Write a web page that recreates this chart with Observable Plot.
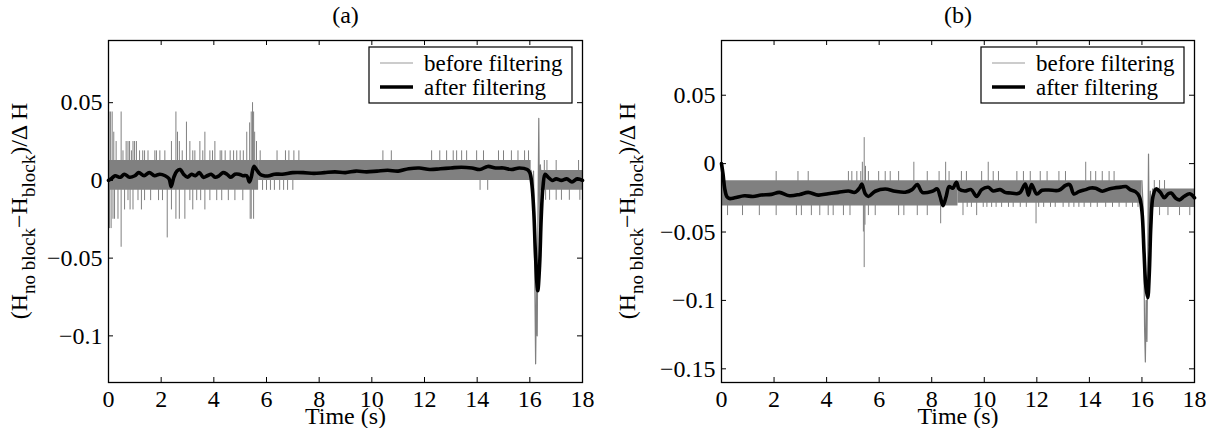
<!DOCTYPE html>
<html><head><meta charset="utf-8">
<script src="https://cdn.jsdelivr.net/npm/d3@7"></script>
<script src="https://cdn.jsdelivr.net/npm/@observablehq/plot@0.6"></script>
<style>
body{margin:0;background:#fff;}
#wrap{display:flex;width:1206px;height:428px;background:#fff;}
svg text{font-family:"Liberation Serif","Times New Roman",serif;}
g[aria-label="x-axis tick label"] text, g[aria-label="y-axis tick label"] text{font-size:24px !important;}
</style></head><body><div id="wrap"></div>
<script>
// ---------- data ----------
const xTicks = [0, 2, 4, 6, 8, 10, 12, 14, 16, 18];
const yTicksA = [-0.1, -0.05, 0, 0.05];
const yTicksB = [-0.15, -0.1, -0.05, 0, 0.05];
const yDomainA = [-0.13, 0.09];
const yDomainB = [-0.16, 0.09];
const panelTitles = ["(a)", "(b)"];
const legendLabels = ["before filtering", "after filtering"];
const xLabel = "Time (s)";

// gray (before filtering) dense band: [tStart, tEnd, low, high]
const bandA = [[0, 5.7, -0.0064, 0.0128], [5.7, 16.05, 0, 0.0128], [16.45, 18, -0.0064, 0.0064]];
const bandB = [[0, 9.0, -0.031, -0.0125], [9.0, 16.0, -0.029, -0.0125], [16.4, 18, -0.032, -0.0185]];

// gray spikes leaving the band: [t, value]
const spikesA = [
  [0.02,0.044],[0.08,0.044],[0.14,0.044],[0.2,0.031],[0.29,0.025],[0.48,0.044],[0.55,0.019],[0.67,0.025],[0.74,0.025],[0.80,0.025],
  [0.87,0.019],[0.93,0.025],[0.99,0.025],[1.06,0.025],[1.18,0.019],[1.3,0.019],[1.37,0.019],[1.5,0.019],[1.76,0.019],[1.82,0.019],
  [1.95,0.019],[2.14,0.019],[2.39,0.025],[2.56,0.044],[2.62,0.031],[2.69,0.025],[2.8,0.019],[2.96,0.0375],[3.09,0.025],[3.2,0.019],
  [3.28,0.019],[3.47,0.025],[3.58,0.019],[3.66,0.031],[3.85,0.019],[3.95,0.019],[4.04,0.025],[4.24,0.019],[4.30,0.019],[4.43,0.019],
  [4.62,0.019],[4.75,0.019],[4.87,0.019],[5.0,0.019],[5.12,0.019],[5.25,0.031],[5.36,0.037],[5.42,0.044],[5.47,0.05],[5.51,0.044],
  [5.55,0.031],[5.62,0.025],[5.76,0.019],
  [6.4,0.019],[6.72,0.019],[6.85,0.019],[7.04,0.019],[7.23,0.019],[10.42,0.019],[10.74,0.019],[12.27,0.019],[12.58,0.019],[12.84,0.019],
  [13.09,0.019],[13.22,0.019],[13.41,0.019],[13.6,0.019],[13.98,0.019],[14.24,0.019],[14.81,0.019],[15.0,0.019],[15.3,0.019],[15.55,0.019],
  [15.8,0.019],[15.95,0.019],
  [0.04,-0.031],[0.10,-0.031],[0.17,-0.025],[0.23,-0.025],[0.36,-0.025],[0.48,-0.043],[0.61,-0.019],[0.74,-0.013],[0.82,-0.019],[0.93,-0.019],
  [1.12,-0.013],[1.25,-0.019],[1.37,-0.013],[1.6,-0.013],[1.9,-0.013],[2.05,-0.013],[2.23,-0.037],[2.39,-0.019],[2.56,-0.025],[2.69,-0.025],
  [2.90,-0.025],[3.09,-0.013],[3.2,-0.019],[3.35,-0.013],[3.5,-0.013],[3.66,-0.019],[3.85,-0.013],[4.11,-0.013],[4.3,-0.013],[4.55,-0.013],
  [4.8,-0.013],[5.1,-0.013],[5.38,-0.025],[5.42,-0.025],[5.51,-0.025],
  [5.85,-0.0064],[6.0,-0.0064],[6.15,-0.0064],[6.3,-0.0064],[6.5,-0.0064],[6.65,-0.0064],[6.8,-0.0064],[7.0,-0.0064],[14.11,-0.0064],[14.4,-0.0064],
  [16.55,0.0128],[16.65,0.0128],[17.0,0.0128],[17.85,0.0128],
  [16.6,-0.0128],[16.75,-0.0128],[17.0,-0.0128],[17.2,-0.0128],[17.5,-0.0128],[17.9,-0.0128]
];
const spikesB = [
  [0.0,0.0],[2.08,-0.0058],[2.91,-0.0058],[3.30,-0.0058],[4.83,-0.0058],[4.96,-0.0058],[5.15,-0.0058],[5.30,-0.0058],[5.36,0.001],[5.43,0.019],
  [5.48,-0.002],[5.59,-0.0058],[5.98,-0.0058],[6.23,-0.0058],[6.42,-0.0058],[6.74,-0.0058],[7.32,0.001],[7.83,-0.0058],[8.28,-0.0058],[8.53,0.001],
  [8.66,-0.0058],[9.13,-0.0058],[9.32,-0.0058],[9.9,-0.0058],[10.15,0.001],[10.34,-0.0058],[10.54,-0.0058],[11.24,-0.0058],[11.49,-0.0058],
  [11.75,-0.0058],[12.13,-0.0058],[12.39,-0.0058],[12.84,-0.0058],[13.09,-0.0058],[13.86,0.001],[14.05,-0.0058],[14.24,-0.0058],[14.49,-0.0058],
  [14.75,-0.0058],[14.94,-0.0058],
  [0.23,-0.038],[0.80,-0.038],[1.44,-0.038],[2.08,-0.038],[2.85,-0.038],[3.04,-0.038],[3.42,-0.038],[3.74,-0.038],[4.06,-0.038],[4.25,-0.038],
  [4.64,-0.038],[4.89,-0.038],[5.59,-0.038],[5.85,-0.038],[6.74,-0.038],[6.94,-0.038],[7.45,-0.038],[7.83,-0.038],[8.34,-0.044],[5.40,-0.05],
  [5.43,-0.076],[5.46,-0.045],
  [9.19,-0.038],[9.35,-0.032],[9.51,-0.032],[9.71,-0.038],[9.96,-0.032],[10.1,-0.032],[10.28,-0.032],[10.45,-0.032],[10.66,-0.032],[10.92,-0.032],
  [11.1,-0.032],[11.37,-0.032],[11.6,-0.032],[11.97,-0.044],[12.07,-0.032],[12.26,-0.032],[12.52,-0.032],[12.7,-0.032],[13.0,-0.032],[13.22,-0.032],
  [13.41,-0.032],[13.6,-0.032],[13.8,-0.032],[14.05,-0.032],[14.3,-0.032],[14.62,-0.032],[14.88,-0.032],[15.13,-0.032],[15.4,-0.032],[15.64,-0.032],
  [15.85,-0.032],
  [16.47,-0.0124],[16.67,-0.0124],[16.86,-0.0124],
  [16.67,-0.038],[16.99,-0.038],[17.43,-0.038],[17.82,-0.038]
];

// gray trace through the sharp dip near 16 s: [t, value]
const dipA = [[16.05,0.0064],[16.1,-0.01],[16.14,0.006],[16.18,-0.05],[16.22,-0.118],[16.25,-0.07],[16.28,-0.1],[16.31,-0.02],[16.34,0.04],[16.37,-0.03],[16.4,0.01],[16.43,-0.006],[16.45,0.0064]];
const dipB = [[16.0,-0.0125],[16.04,-0.03],[16.07,-0.06],[16.1,-0.12],[16.13,-0.145],[16.16,-0.1],[16.19,-0.13],[16.22,-0.07],[16.25,0.007],[16.28,-0.06],[16.32,-0.02],[16.36,-0.035],[16.4,-0.025]];

// black (after filtering) curves: [t, value]
const filtA = [
  [0,0],[0.1,0.001],[0.25,0.003],[0.45,0.002],[0.6,0.004],[0.8,0.002],[1.0,0.003],[1.15,0.005],[1.35,0.003],[1.55,0.005],[1.75,0.003],
  [1.95,0.004],[2.15,0.003],[2.3,0.001],[2.38,-0.004],[2.48,0.002],[2.6,0.006],[2.72,0.007],[2.85,0.004],[3.0,0.002],[3.15,0.004],
  [3.3,0.003],[3.45,0.005],[3.6,0.002],[3.75,0.003],[3.9,0.004],[4.05,0.002],[4.2,0.003],[4.35,0.005],[4.5,0.004],[4.65,0.002],
  [4.8,0.004],[4.95,0.004],[5.1,0.003],[5.25,0.003],[5.35,-0.001],[5.42,0.002],[5.52,0.009],[5.62,0.007],[5.75,0.004],[5.9,0.003],
  [6.1,0.003],[6.3,0.004],[6.6,0.004],[7.0,0.005],[7.4,0.005],[7.8,0.0045],[8.2,0.005],[8.6,0.0055],[9.0,0.005],[9.4,0.006],
  [9.8,0.0055],[10.2,0.006],[10.6,0.0065],[11.0,0.006],[11.4,0.0075],[11.8,0.008],[12.2,0.007],[12.6,0.0075],[13.0,0.008],[13.4,0.0085],
  [13.8,0.008],[14.1,0.007],[14.4,0.009],[14.7,0.008],[15.0,0.008],[15.3,0.007],[15.6,0.008],[15.9,0.007],[16.0,0.005],[16.08,-0.003],
  [16.15,-0.02],[16.22,-0.05],[16.3,-0.071],[16.37,-0.055],[16.43,-0.025],[16.5,-0.004],[16.58,0.004],[16.7,0.002],[16.85,0.0],[17.0,0.001],
  [17.2,0.0],[17.4,0.001],[17.6,-0.001],[17.8,0.001],[18,0.0]
];
const filtB = [
  [0,0],[0.06,-0.008],[0.12,-0.018],[0.2,-0.024],[0.3,-0.0255],[0.5,-0.025],[0.87,-0.0235],[1.2,-0.024],[1.51,-0.023],[1.9,-0.0225],
  [2.2,-0.021],[2.59,-0.0235],[2.98,-0.0225],[3.3,-0.021],[3.68,-0.023],[4.06,-0.022],[4.44,-0.021],[4.83,-0.020],[5.08,-0.021],[5.27,-0.0173],
  [5.34,-0.015],[5.47,-0.022],[5.59,-0.024],[5.85,-0.0202],[6.23,-0.0185],[6.61,-0.0202],[6.99,-0.0209],[7.25,-0.019],[7.45,-0.0153],[7.64,-0.021],
  [8.02,-0.0202],[8.21,-0.0185],[8.32,-0.024],[8.43,-0.0307],[8.55,-0.024],[8.66,-0.0168],[8.8,-0.018],[8.94,-0.0137],[9.04,-0.0185],[9.26,-0.02],
  [9.5,-0.019],[9.71,-0.024],[9.9,-0.019],[10.15,-0.0173],[10.34,-0.02],[10.6,-0.019],[10.79,-0.021],[11.0,-0.0215],[11.24,-0.022],[11.37,-0.021],
  [11.56,-0.015],[11.68,-0.023],[11.8,-0.0153],[12.0,-0.0222],[12.2,-0.0195],[12.45,-0.0193],[12.84,-0.0195],[13.09,-0.016],[13.25,-0.0153],[13.41,-0.0222],
  [13.6,-0.0205],[13.86,-0.019],[14.05,-0.0178],[14.24,-0.018],[14.49,-0.0202],[14.75,-0.0185],[14.94,-0.0178],[15.2,-0.0172],[15.39,-0.0168],[15.55,-0.019],
  [15.75,-0.0205],[15.9,-0.024],[16.0,-0.035],[16.08,-0.065],[16.15,-0.09],[16.22,-0.098],[16.28,-0.08],[16.34,-0.045],[16.42,-0.024],[16.54,-0.0185],
  [16.7,-0.021],[16.85,-0.025],[17.0,-0.022],[17.11,-0.0215],[17.3,-0.0255],[17.43,-0.0265],[17.6,-0.024],[17.82,-0.022],[18,-0.025]
];

// ---------- drawing ----------
const GRAY = "#808080";
const FONT = "Liberation Serif, Times New Roman, serif";
const FS = 24;
const H = 428, MT = 40, MB = 46;
const fmtY = d => d === 0 ? "0" : (d < 0 ? "\u2212" : "") + String(Math.abs(d));

function makePanel(o) {
  const pw = o.width - o.ml - o.mr, ph = H - MT - MB;
  const bandRows = o.band.flatMap((s, i) => [
    {t: s[0], lo: s[2], hi: s[3], seg: i}, {t: s[1], lo: s[2], hi: s[3], seg: i}]);
  const baseAt = t => {
    let s = o.band.find(b => t >= b[0] && t <= b[1]);
    if (!s) s = o.band.reduce((a, b) => Math.min(Math.abs(t - a[0]), Math.abs(t - a[1])) < Math.min(Math.abs(t - b[0]), Math.abs(t - b[1])) ? a : b);
    return (s[2] + s[3]) / 2;
  };
  const spikeRows = o.spikes.map(([t, v]) => ({t, v, base: baseAt(t)}));
  const svg = Plot.plot({
    width: o.width, height: H,
    marginLeft: o.ml, marginRight: o.mr, marginTop: MT, marginBottom: MB,
    x: {domain: [0, 18]},
    y: {domain: o.ydomain},
    style: {fontFamily: FONT, fontSize: FS + "px", color: "black", background: "white", overflow: "visible"},
    marks: [
      Plot.areaY(bandRows, {x: "t", y1: "lo", y2: "hi", z: "seg", fill: GRAY}),
      Plot.ruleX(spikeRows, {x: "t", y1: "base", y2: "v", stroke: GRAY, strokeWidth: 1}),
      Plot.line(o.dip, {x: d => d[0], y: d => d[1], stroke: GRAY, strokeWidth: 1.2}),
      Plot.line(o.filt, {x: d => d[0], y: d => d[1], stroke: "black", strokeWidth: 3.6, curve: "catmull-rom"}),
      Plot.frame({stroke: "black", strokeWidth: 1.3}),
      Plot.ruleX(xTicks, {x: d => d, insetTop: ph - 5, stroke: "black"}),
      Plot.ruleX(xTicks, {x: d => d, insetBottom: ph - 5, stroke: "black"}),
      Plot.ruleY(o.yticks, {y: d => d, insetRight: pw - 5, stroke: "black"}),
      Plot.ruleY(o.yticks, {y: d => d, insetLeft: pw - 5, stroke: "black"}),
      Plot.axisX(xTicks, {tickSize: 0, tickPadding: 7, label: null, tickFormat: d => String(d), fontSize: FS}),
      Plot.axisY(o.yticks, {tickSize: 0, tickPadding: 6, label: null, tickFormat: fmtY, fontSize: FS}),
      Plot.text([o.title], {frameAnchor: "top", lineAnchor: "middle", dy: -25, fontSize: FS}),
      Plot.text([xLabel], {frameAnchor: "bottom", lineAnchor: "middle", dy: 34, fontSize: 24})
    ]
  });
  const s = d3.select(svg);
  // y label with subscripts
  const lab = s.append("text")
    .attr("transform", `translate(${o.labelX},${MT + ph / 2}) rotate(-90)`)
    .attr("text-anchor", "middle").attr("font-family", FONT).attr("font-size", 24).attr("fill", "black");
  lab.append("tspan").text("(H");
  lab.append("tspan").attr("font-size", 19).attr("dy", 8).text("no block");
  lab.append("tspan").attr("dy", -8).text("\u2212H");
  lab.append("tspan").attr("font-size", 19).attr("dy", 8).text("block");
  lab.append("tspan").attr("dy", -8).text(")/\u0394 H");
  // legend
  const lw = 203, lh = 56;
  const g = s.append("g").attr("transform", `translate(${o.width - o.mr - 10 - lw},${MT + 7})`);
  g.append("rect").attr("width", lw).attr("height", lh).attr("fill", "white").attr("stroke", "black").attr("stroke-width", 1.2);
  const styles = [{stroke: "#9a9a9a", w: 1.2}, {stroke: "black", w: 3.6}];
  legendLabels.forEach((txt, i) => {
    const cy = 16 + i * 24;
    g.append("line").attr("x1", 11).attr("x2", 44).attr("y1", cy).attr("y2", cy)
      .attr("stroke", styles[i].stroke).attr("stroke-width", styles[i].w);
    g.append("text").attr("x", 55).attr("y", cy).attr("dy", "0.33em").attr("text-anchor", "start")
      .attr("font-family", FONT).attr("font-size", 23).attr("fill", "black").text(txt);
  });
  return svg;
}

const wrap = document.getElementById("wrap");
wrap.appendChild(makePanel({width: 603, ml: 108, mr: 21, ydomain: yDomainA, yticks: yTicksA,
  band: bandA, spikes: spikesA, dip: dipA, filt: filtA, title: panelTitles[0], labelX: 27}));
wrap.appendChild(makePanel({width: 603, ml: 118, mr: 12, ydomain: yDomainB, yticks: yTicksB,
  band: bandB, spikes: spikesB, dip: dipB, filt: filtB, title: panelTitles[1], labelX: 32}));
</script></body></html>
